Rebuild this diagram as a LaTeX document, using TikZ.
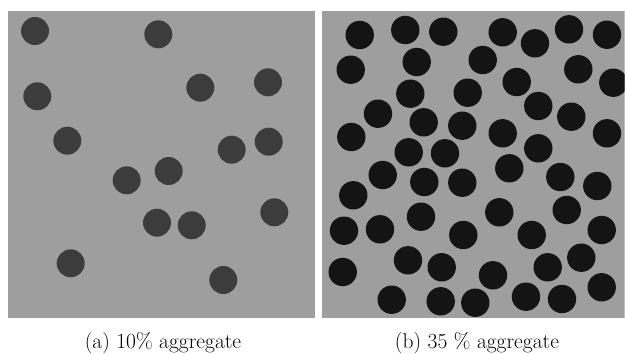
\documentclass[tikz,border=0pt]{standalone}
\begin{document}
\begin{tikzpicture}[x=1pt,y=-1pt,
  panel/.style={fill=panelgray},
  lowdot/.style={fill=lowcol},
  highdot/.style={fill=highcol},
  caption/.style={anchor=base,inner sep=0pt,font=\fontsize{21.5}{25}\selectfont}]
\definecolor{panelgray}{RGB}{158,158,158}
\definecolor{lowcol}{RGB}{60,60,60}
\definecolor{highcol}{RGB}{20,20,20}
\useasboundingbox[fill=white] (0,0) rectangle (625,354);
\fill[panel] (8,11) rectangle (315,318);
\begin{scope}
\clip (322,11) rectangle (624.5,318);
\fill[panel] (322,11) rectangle (624.5,318);
\foreach \x/\y in {359.7/35,405.3/30,443.3/31.7,502.7/32.3,535/43.3,569/29.3,607/34.7,350.7/69.7,416.7/62,482.7/60,578.3/69.3,613.3/82.7,516.7/82,410.3/93.7,467.7/92.7,538.3/106,571.3/116.7,378/113.7,423.7/122.3,462.3/125.7,351.3/137,502.7/133.3,607/133.3,408.7/152.3,445/153.3,538.3/148.3,382.7/175,424.3/182,462.3/182.7,509.3/168.3,560.3/177,597.3/186,353.3/195.3,421/216.7,499.3/212.3,566.7/210,344/230.7,380/229.3,463.3/235,531.7/235,601.7/230,408/260.3,441.7/267.3,493/275.3,547.7/267.3,581.3/257.7,342.7/272,601.7/287.3,391.7/299.7,440.7/301.3,475.3/302.7,526/296.7,562/299}
  \fill[highdot] (\x,\y) circle (14.2);
\end{scope}
\foreach \x/\y in {35/31,158.3/34.3,37.3/96.3,200.3/87.7,268/82.3,67.3/140.7,231.7/149.7,268.7/141.7,126.7/180.3,168.7/171,157/222.7,191.7/225.3,274.3/212.3,70.7/263.3,223.3/280}
  \fill[lowdot] (\x,\y) circle (14);
\node[caption] (capa) at (163,348.5) {(a) 10\% aggregate};
\node[caption] (capb) at (477,348.5) {(b) 35 \% aggregate};
\end{tikzpicture}
\end{document}
